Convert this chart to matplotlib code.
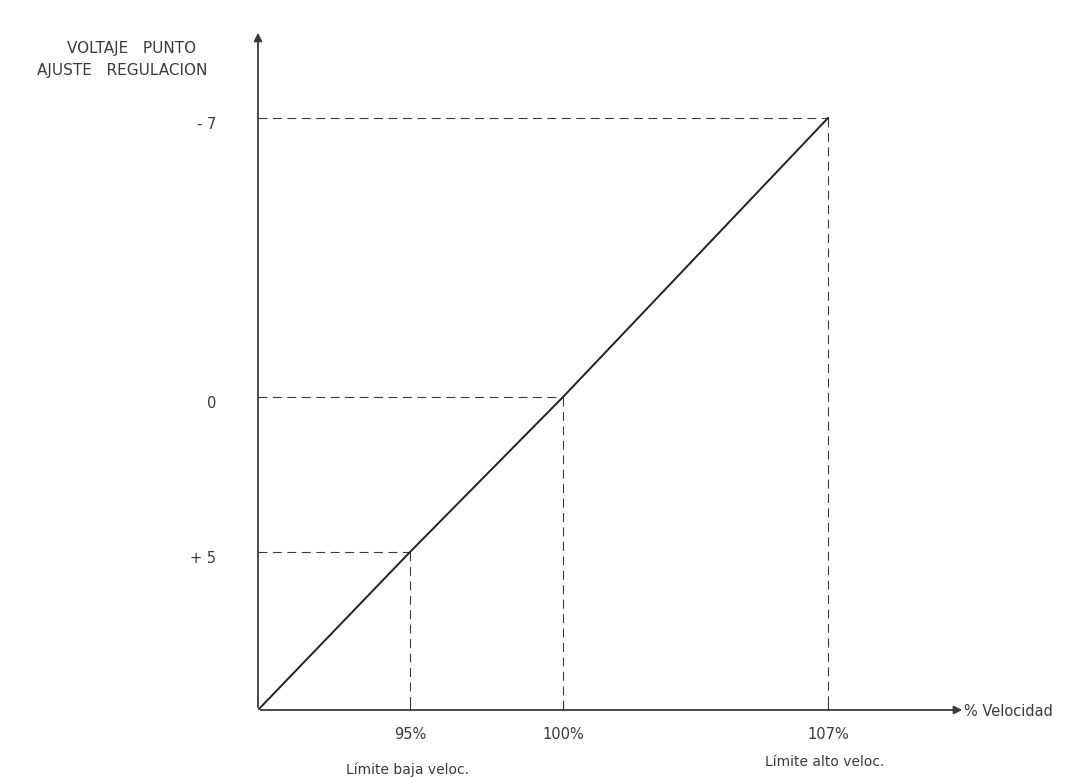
import numpy as np
import matplotlib

matplotlib.use("Agg")
import matplotlib.pyplot as plt
from matplotlib.transforms import ScaledTranslation

# schematic: regulation set-point voltage vs. speed
speed = [95, 100, 107]              # % velocidad
voltage = [5, 0, -7]                # voltaje punto ajuste
speed_labels = ["95%", "100%", "107%"]
voltage_labels = ["+ 5", "0", "- 7"]
origin = (90, 10)                   # unlabeled corner of the sketch
limit_notes = ["Límite baja veloc.", "Límite alto veloc."]

INK = "#3a3a3a"
plt.rcParams["font.family"] = ["DejaVu Sans"]

# the drawing is not to scale: piecewise scales reproduce the sketch spacing
XK, XP = [90, 95, 100, 107], [0, 152, 305, 570]
YK, YP = [-7, 0, 5, 10], [-592, -313, -158, 0]


def _pw(v, a, b):
    v = np.asarray(v, float)
    out = np.interp(v, a, b)
    lo, hi = (b[1] - b[0]) / (a[1] - a[0]), (b[-1] - b[-2]) / (a[-1] - a[-2])
    out = np.where(v < a[0], b[0] + (v - a[0]) * lo, out)
    out = np.where(v > a[-1], b[-1] + (v - a[-1]) * hi, out)
    return out


fig = plt.figure(figsize=(10.75, 7.77), dpi=100)
ax = fig.add_axes([258 / 1075, 67 / 777, (965 - 258) / 1075, (710 - 30) / 777])
ax.set_xscale("function", functions=(lambda v: _pw(v, XK, XP), lambda p: _pw(p, XP, XK)))
ax.set_yscale("function", functions=(lambda v: _pw(v, YK, YP), lambda p: _pw(p, YP, YK)))
ax.set_xlim(origin[0], float(_pw(707, XP, XK)))
ax.set_ylim(origin[1], float(_pw(-680, YP, YK)))

for s in ax.spines.values():
    s.set_visible(False)

# axes with arrow heads
ax.annotate("", xy=(1.0, 0), xytext=(0, 0), xycoords="axes fraction",
            arrowprops=dict(arrowstyle="-|>", color=INK, lw=1.3, mutation_scale=12))
ax.annotate("", xy=(0, 1.0), xytext=(0, 0), xycoords="axes fraction",
            arrowprops=dict(arrowstyle="-|>", color=INK, lw=1.3, mutation_scale=12))

# guide lines
for s, v in zip(speed, voltage):
    ax.plot([origin[0], s], [v, v], color=INK, lw=0.8, dashes=(8, 5))
    ax.plot([s, s], [v, origin[1]], color=INK, lw=0.8, dashes=(8, 5))

ax.plot([origin[0]] + speed, [origin[1]] + voltage, color="#222222", lw=1.4)

ax.set_xticks(speed, speed_labels)
ax.set_yticks(voltage, voltage_labels)
ax.xaxis.set_minor_locator(matplotlib.ticker.NullLocator())
ax.yaxis.set_minor_locator(matplotlib.ticker.NullLocator())
ax.tick_params(axis="x", direction="in", length=5, width=0.8, color=INK, pad=12,
               labelsize=10.5, labelcolor=INK)
ax.tick_params(axis="y", length=0, pad=30, labelsize=10.5, labelcolor=INK)
shift = ScaledTranslation(0, -5 / 100, fig.dpi_scale_trans)
for lab in ax.get_yticklabels():
    lab.set_transform(lab.get_transform() + shift)

fig.text(132 / 1075, 1 - 48 / 777, "VOLTAJE   PUNTO", ha="center", va="center",
         fontsize=11, color=INK)
fig.text(122 / 1075, 1 - 71 / 777, "AJUSTE   REGULACION", ha="center", va="center",
         fontsize=11, color=INK)
fig.text(1008 / 1075, 1 - 712 / 777, "% Velocidad", ha="center", va="center",
         fontsize=10.5, color=INK)
fig.text(408 / 1075, 1 - 770 / 777, limit_notes[0], ha="center", va="center",
         fontsize=10, color=INK)
fig.text(825 / 1075, 1 - 762 / 777, limit_notes[1], ha="center", va="center",
         fontsize=10, color=INK)

fig.savefig("out.png", dpi=100, facecolor="white")
